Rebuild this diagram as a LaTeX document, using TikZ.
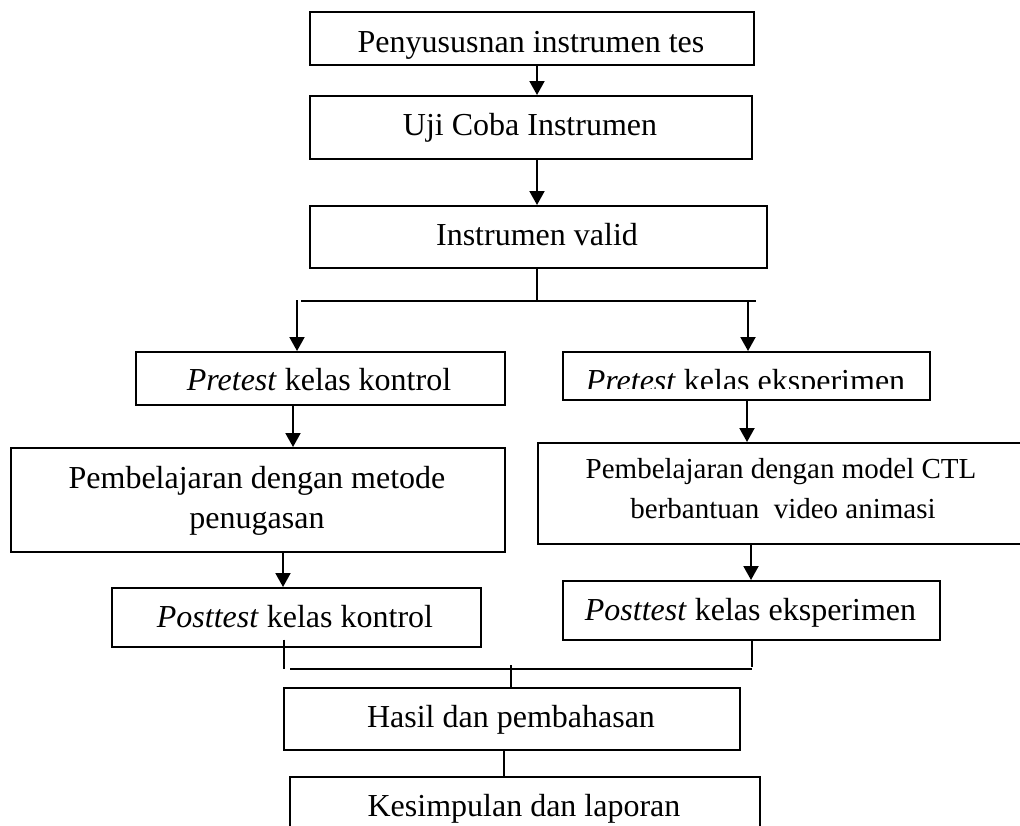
\documentclass[tikz,border=0pt]{standalone}
\usepackage{fontspec}
\setmainfont{Liberation Serif}
\usetikzlibrary{arrows.meta}
\begin{document}
\begin{tikzpicture}[x=1pt,y=-1pt,
  box/.style={draw=black, line width=1.5pt, rectangle, inner sep=0pt, anchor=north west},
  txt/.style={inner sep=0pt, anchor=base, font=\fontsize{32}{40}\selectfont},
  txts/.style={inner sep=0pt, anchor=base, font=\fontsize{29}{40}\selectfont},
  arr/.style={line width=2pt, -{Triangle[width=15pt,length=14pt]}},
  ln/.style={line width=1.3pt}]
\clip (0,0) rectangle (1020,825);
\fill[white] (0,0) rectangle (1020,825);
% boxes
\node[box, minimum width=444pt, minimum height=53pt] (b1) at (309,11) {};
\node[box, minimum width=442pt, minimum height=63pt] (b2) at (309,95) {};
\node[box, minimum width=457pt, minimum height=62pt] (b3) at (309,205) {};
\node[box, minimum width=369pt, minimum height=53pt] (b4) at (135,351) {};
\node[box, minimum width=367pt, minimum height=48pt] (b5) at (562,351) {};
\node[box, minimum width=494pt, minimum height=104pt] (b6) at (10,447) {};
\node[box, minimum width=493pt, minimum height=101pt] (b7) at (537,442) {};
\node[box, minimum width=369pt, minimum height=59pt] (b8) at (111,587) {};
\node[box, minimum width=377pt, minimum height=59pt] (b9) at (562,580) {};
\node[box, minimum width=456pt, minimum height=62pt] (b10) at (283,687) {};
\node[box, minimum width=470pt, minimum height=80pt] (b11) at (289,776) {};
% texts
\node[txt] (t1) at (531,52) {Penyususnan instrumen tes};
\node[txt] (t2) at (530,135) {Uji Coba Instrumen};
\node[txt] (t3) at (537,245) {Instrumen valid};
\node[txt] (t4) at (319,390) {\textit{Pretest} kelas kontrol};
\begin{scope}
\clip (562,340) rectangle (929,388);
\node[txt] (t5) at (745.5,391) {\textit{Pretest} kelas eksperimen};
\end{scope}
\node[txt] (t6a) at (257,488) {Pembelajaran dengan metode};
\node[txt] (t6b) at (257,528) {penugasan};
\node[txts] (t7a) at (781,478) {Pembelajaran dengan model CTL};
\node[txts] (t7b) at (783,518) {berbantuan\ \ video animasi};
\node[txt] (t8) at (295,627) {\textit{Posttest} kelas kontrol};
\node[txt] (t9) at (750.5,620) {\textit{Posttest} kelas eksperimen};
\node[txt] (t10) at (511,727) {Hasil dan pembahasan};
\node[txt] (t11) at (524,816) {Kesimpulan dan laporan};
% connector x positions
\coordinate (xa) at (537,0);
\coordinate (xl) at (297,0);
\coordinate (xr) at (748,0);
\coordinate (xl2) at (293,0);
\coordinate (xr2) at (747,0);
\coordinate (xl3) at (283,0);
\coordinate (xr3) at (751,0);
\coordinate (xl4) at (284,0);
\coordinate (xr4) at (752,0);
\coordinate (xm) at (511,0);
\coordinate (xm2) at (504,0);
% junction coordinates
\coordinate (j1) at (537,301);
\coordinate (h1l) at (301,301);
\coordinate (h1r) at (756,301);
\coordinate (s1l) at (297,300);
\coordinate (s1r) at (748,301);
\coordinate (j2l) at (284,669);
\coordinate (j2r) at (752,667);
\coordinate (h2l) at (290,669);
\coordinate (h2r) at (752,669);
\coordinate (j3) at (511,665);
% connectors
\draw[arr] (b1.south -| xa) -- (b2.north -| xa);
\draw[arr] (b2.south -| xa) -- (b3.north -| xa);
\draw[ln] (b3.south -| xa) -- (j1);
\draw[ln] (h1l) -- (h1r);
\draw[arr] (s1l) -- (b4.north -| xl);
\draw[arr] (s1r) -- (b5.north -| xr);
\draw[arr] (b4.south -| xl2) -- (b6.north -| xl2);
\draw[arr] (b5.south -| xr2) -- (b7.north -| xr2);
\draw[arr] (b6.south -| xl3) -- (b8.north -| xl3);
\draw[arr] (b7.south -| xr3) -- (b9.north -| xr3);
\draw[ln] ([yshift=8pt]b8.south -| xl4) -- (j2l);
\draw[ln] (b9.south -| xr4) -- (j2r);
\draw[ln] (h2l) -- (h2r);
\draw[ln] (j3) -- (b10.north -| xm);
\draw[ln] (b10.south -| xm2) -- (b11.north -| xm2);
\end{tikzpicture}
\end{document}
